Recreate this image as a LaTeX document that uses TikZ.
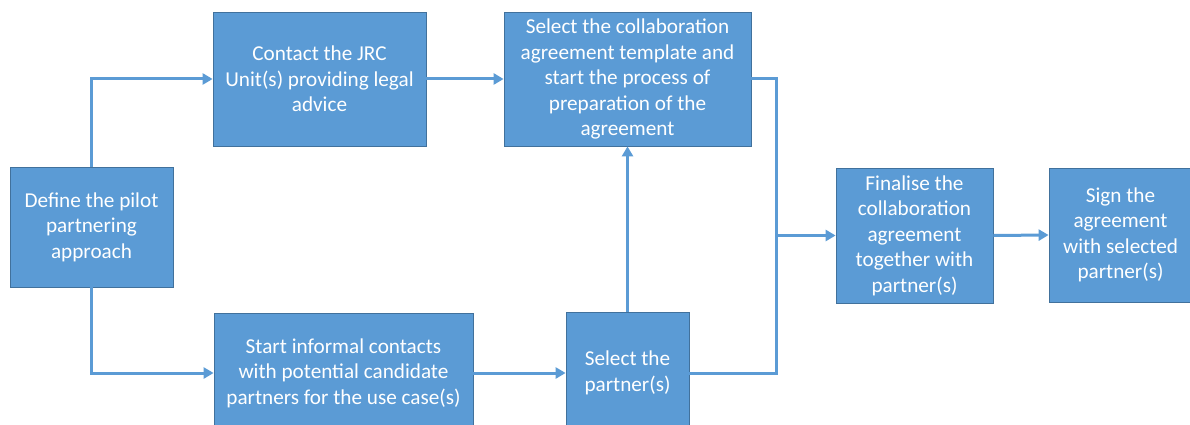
\documentclass[tikz,border=0pt]{standalone}
\usepackage{fontspec}
\setmainfont{Carlito}
\usetikzlibrary{arrows.meta}
\definecolor{boxfill}{HTML}{5B9BD5}
\definecolor{boxline}{HTML}{41719C}
\begin{document}
\begin{tikzpicture}[x=1pt,y=-1pt,
  box/.style={draw=boxline, line width=0.8pt, fill=boxfill, text=white, align=center, inner sep=0pt, font=\fontsize{21.2}{25.5}\selectfont},
  conn/.style={draw=boxfill, line width=3pt, -{Triangle[length=10pt,width=11pt]}},
  plainline/.style={draw=boxfill, line width=3pt}]
\useasboundingbox (0,0) rectangle (1190,425);
\clip (0,0) rectangle (1190,425);
\node[box, minimum width=163, minimum height=120] (A) at (91.5,227) {Define the pilot\\partnering\\approach};
\node[box, minimum width=213, minimum height=134] (B) at (319.5,79) {Contact the JRC\\Unit(s) providing legal\\advice};
\node[box, minimum width=247, minimum height=134] (C) at (627.5,79) {Select the collaboration\\agreement template and\\start the process of\\preparation of the\\agreement};
\node[box, minimum width=259, minimum height=120] (D) at (343.5,373) {Start informal contacts\\with potential candidate\\partners for the use case(s)};
\node[box, minimum width=123, minimum height=122] (E) at (627.5,373) {Select the\\partner(s)};
\node[box, minimum width=157, minimum height=135] (F) at (914.5,235.5) {Finalise the\\collaboration\\agreement\\together with\\partner(s)};
\node[box, minimum width=143, minimum height=134] (G) at (1120.5,235) {Sign the\\agreement\\with selected\\partner(s)};
\coordinate (bus) at (776,0);
\draw[conn] (A.north) |- (B.west);
\draw[conn] (A.south) |- (D.west);
\draw[conn] (B.east) -- (C.west);
\draw[conn] (D.east) -- (E.west);
\draw[conn] (E.north) -- (C.south);
\draw[plainline] (C.east) -| (bus |- E.east) -- (E.east);
\draw[conn] (bus |- F.west) -- (F.west);
\draw[conn] (F.east) -- (G.west);
\end{tikzpicture}
\end{document}
